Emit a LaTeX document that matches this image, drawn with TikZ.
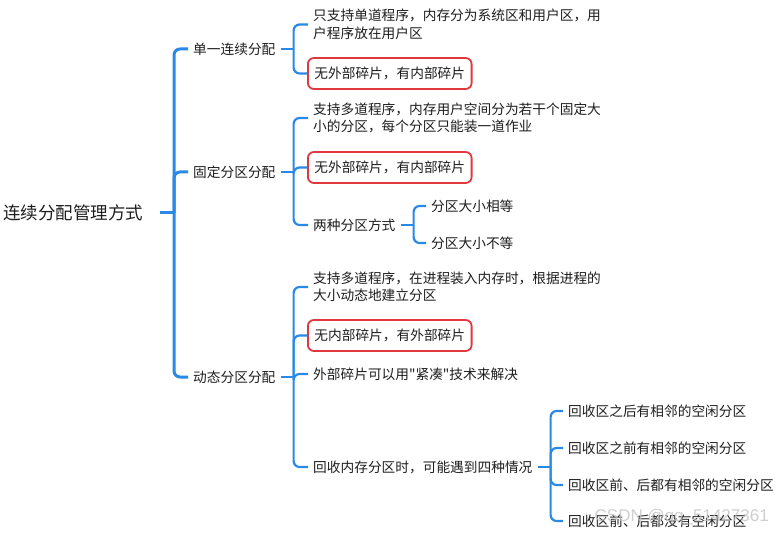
\documentclass[tikz,border=0pt]{standalone}
\usepackage{fontspec}
\newfontfamily\cjk{Noto Sans CJK SC}
\newfontfamily\wmfont{Liberation Sans}
\definecolor{lineblue}{RGB}{40,137,230}
\definecolor{boxred}{RGB}{224,56,60}
\definecolor{txt}{RGB}{30,30,30}
\begin{document}
\begin{tikzpicture}[x=1pt,y=-1pt,
  rootnode/.style={font=\cjk\fontsize{17.5}{21}\selectfont, text=txt, inner sep=0pt, anchor=west},
  lvl/.style={font=\cjk\fontsize{13.7}{17.5}\selectfont, text=txt, inner xsep=5pt, inner ysep=0pt, anchor=west, align=left},
  redbox/.style={lvl, draw=boxred, line width=1.8pt, rounded corners=6pt, inner xsep=6.5pt, minimum height=31pt},
  mainline/.style={draw=lineblue, line width=3pt, rounded corners=6pt},
  subline/.style={draw=lineblue, line width=2.2pt, rounded corners=6pt},
]
\fill[white] (0,0) rectangle (784,534);
\useasboundingbox (0,0) rectangle (784,534);

% root and level 1
\node[rootnode] (r) at (3,213) {连续分配管理方式};
\coordinate (rj) at (174,213);
\node[lvl] (a) at (188,49) {单一连续分配};
\node[lvl] (b) at (188,172) {固定分区分配};
\node[lvl] (c) at (188,377) {动态分区分配};

% children of a
\node[lvl] (a1) at (308,24.5) {只支持单道程序，内存分为系统区和用户区，用\\户程序放在用户区};
\node[redbox] (a2) at (307,73.5) {无外部碎片，有内部碎片};

% children of b
\node[lvl] (b1) at (308,118) {支持多道程序，内存用户空间分为若干个固定大\\小的分区，每个分区只能装一道作业};
\node[redbox] (b2) at (307,167.5) {无外部碎片，有内部碎片};
\node[lvl] (b3) at (308,225) {两种分区方式};
\node[lvl] (b31) at (426,206) {分区大小相等};
\node[lvl] (b32) at (426,243) {分区大小不等};

% children of c
\node[lvl] (c1) at (308,287) {支持多道程序，在进程装入内存时，根据进程的\\大小动态地建立分区};
\node[redbox] (c2) at (307,335.5) {无内部碎片，有外部碎片};
\node[lvl] (c3) at (308,374) {外部碎片可以用"紧凑"技术来解决};
\node[lvl] (c4) at (308,467) {回收内存分区时，可能遇到四种情况};
\node[lvl] (c41) at (563,411) {回收区之后有相邻的空闲分区};
\node[lvl] (c42) at (563,448) {回收区之前有相邻的空闲分区};
\node[lvl] (c43) at (563,485) {回收区前、后都有相邻的空闲分区};
\node[lvl] (c44) at (563,521) {回收区前、后都没有空闲分区};

% junction coordinates
\coordinate (aj) at ([xshift=13pt]a.east);
\coordinate (bj) at ([xshift=13pt]b.east);
\coordinate (cj) at ([xshift=13pt]c.east);
\coordinate (b3j) at ([xshift=13pt]b3.east);
\coordinate (c4j) at ([xshift=13pt]c4.east);

% connectors
\draw[mainline] ([xshift=17pt]r.east) -- (rj);
\foreach \n in {a,b,c} \draw[mainline] (rj) |- (\n.west);

\draw[subline] (a.east) -- (aj);
\foreach \n in {a1,a2} \draw[subline] (aj) |- (\n.west);

\draw[subline] (b.east) -- (bj);
\foreach \n in {b1,b2,b3} \draw[subline] (bj) |- (\n.west);
\draw[subline] (b3.east) -- (b3j);
\foreach \n in {b31,b32} \draw[subline] (b3j) |- (\n.west);

\draw[subline] (c.east) -- (cj);
\foreach \n in {c1,c2,c3,c4} \draw[subline] (cj) |- (\n.west);
\draw[subline] (c4.east) -- (c4j);
\foreach \n in {c41,c42,c43,c44} \draw[subline] (c4j) |- (\n.west);

% watermark
\node[font=\wmfont\fontsize{17}{17}\selectfont, text=gray!50, opacity=0.75, anchor=east, inner sep=0pt] (wm) at (769,517) {CSDN @qq\_51427361};
\end{tikzpicture}
\end{document}
